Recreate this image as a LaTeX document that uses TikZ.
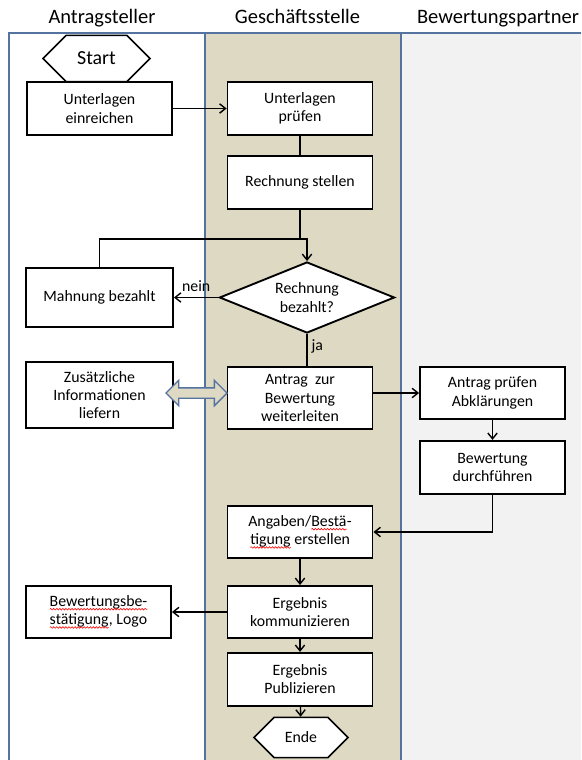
\documentclass[tikz,border=0pt]{standalone}
\usepackage{fontspec}
\setmainfont{Carlito}
\usepackage{tikz}
\usetikzlibrary{shapes.geometric, shapes.misc, shapes.arrows, arrows.meta, positioning, calc, decorations.pathmorphing}
\usepackage{xcolor}
\definecolor{lanetan}{RGB}{221,217,195}
\definecolor{lanegray}{RGB}{242,242,242}
\definecolor{laneblue}{RGB}{84,115,160}
\newcommand{\pu}{0.3mm}
\newcommand{\boxfont}{\fontsize{13.5}{15.6}\selectfont}
\tikzset{
    wavyword/.style={shape=rectangle, draw=none, fill=none, inner sep=0pt, outer sep=0pt, minimum width=0pt, minimum height=0pt, anchor=base},
    wavyline/.style={draw=red, line width=0.5pt, decorate, decoration={snake, amplitude=0.7pt, segment length=2.6pt}}
}
\newcommand{\wavy}[1]{\tikz[baseline=(w.base)]{\node[wavyword] (w) {#1}; \draw[wavyline] ([yshift=-2.4pt]w.base west) -- ([yshift=-2.4pt]w.base east);}}

\begin{document}
\begin{tikzpicture}[
    x=\pu, y=-\pu,
    box/.style={rectangle, draw, line width=1.6pt, fill=white, minimum width=145*\pu, minimum height=53*\pu, align=center, inner sep=2pt, font=\boxfont},
    decision/.style={diamond, draw, line width=1.6pt, fill=white, aspect=2.46, minimum width=175*\pu, minimum height=71*\pu, inner sep=0pt, align=center, font=\boxfont},
    terminal/.style={chamfered rectangle, draw, line width=1.3pt, fill=white, inner sep=0pt, font=\boxfont},
    header/.style={anchor=base, font=\fontsize{17.5}{20}\selectfont},
    dblarrow/.style={double arrow, draw=laneblue, fill=lanetan, line width=1.2pt, minimum height=61*\pu, inner sep=4.5*\pu, double arrow head extend=7.5*\pu},
    lanerule/.style={draw=laneblue, line width=1.2pt},
    arrow/.style={-{Straight Barb[length=5pt, width=8pt]}, line width=1.2pt},
    plain/.style={line width=1.2pt},
    lbl/.style={font=\boxfont}
]
\useasboundingbox (0,0) rectangle (581,760);

% swimlanes
\fill[lanetan] (205,33) rectangle (401,760);
\fill[lanegray] (401,33) rectangle (581,760);
\draw[lanerule] (9,760) -- (9,33) -- (581,33);
\draw[lanerule] (205,33) -- (205,760);
\draw[lanerule] (401,33) -- (401,760);

\node[header] (h1) at (102,24) {Antragsteller};
\node[header] (h2) at (297.5,24) {Geschäftsstelle};
\node[header] (h3) at (498,24) {Bewertungspartner};

% steps
\node[terminal, minimum width=107*\pu, minimum height=33*\pu, chamfered rectangle xsep=20*\pu, chamfered rectangle ysep=16.5*\pu, font=\fontsize{17}{20}\selectfont] (start) at (96.5,58.5) {Start};
\node[box] (ue) at (99.5,108.5) {Unterlagen\\einreichen};
\node[box] (up) at (300,108.5) {Unterlagen\\prüfen};
\node[box, below=19*\pu of up] (rs) {Rechnung stellen};
\node[decision] (dec) at (307,297.5) {Rechnung\\bezahlt?};
\node[box, minimum width=147*\pu, minimum height=59*\pu] (mb) at (99.5,297.5) {Mahnung bezahlt};
\node[box, minimum width=147*\pu, minimum height=66*\pu] (zus) at (99.5,395) {Zusätzliche\\Informationen\\liefern};
\node[box, minimum height=62*\pu] (fwd) at (300,398) {Antrag\ \ zur\\Bewertung\\weiterleiten};
\node[box, minimum height=52*\pu] (chk) at (492.5,393) {Antrag prüfen\\Abklärungen};
\node[box, below=20*\pu of chk] (eval) {Bewertung\\durchführen};
\node[box, minimum height=52*\pu] (conf) at (300,532) {Angaben/\wavy{Bestä}-\\\wavy{tigung} erstellen};
\node[box, minimum height=52*\pu] (comm) at (300,612) {Ergebnis\\kommunizieren};
\node[box, minimum height=52*\pu, align=left] (cert) at (98.5,612) {\wavy{Bewertungsbe-}\\\wavy{stätigung}, Logo};
\node[box, below=13*\pu of comm] (pub) {Ergebnis\\Publizieren};
\node[terminal, minimum width=94*\pu, minimum height=29*\pu, chamfered rectangle xsep=12*\pu, chamfered rectangle ysep=14.5*\pu] (ende) at (301,737.5) {Ende};

\node[dblarrow] (link) at (196.5,393) {};

% flow
\coordinate (join) at (307,239);
\draw[arrow] (ue) -- (up);
\draw[plain] (up) -- (rs);
\draw[plain] (rs.south) -- (rs.south |- join);
\draw[arrow] (mb.north) |- (join) -- (dec.north);
\draw[arrow] (dec.west) -- node[lbl, above=1pt] {nein} (mb.east);
\draw[plain] (dec.south) -- node[lbl, right, pos=0.4] {ja} (dec.south |- fwd.north);
\draw[arrow] (fwd.east |- chk.west) -- (chk.west);
\draw[arrow] (chk) -- (eval);
\draw[arrow] (eval.south) |- (conf.east);
\draw[arrow] (conf) -- (comm);
\draw[arrow] (comm) -- (cert);
\draw[arrow] (comm) -- (pub);
\draw[arrow] (pub) -- (ende);
\end{tikzpicture}
\end{document}
